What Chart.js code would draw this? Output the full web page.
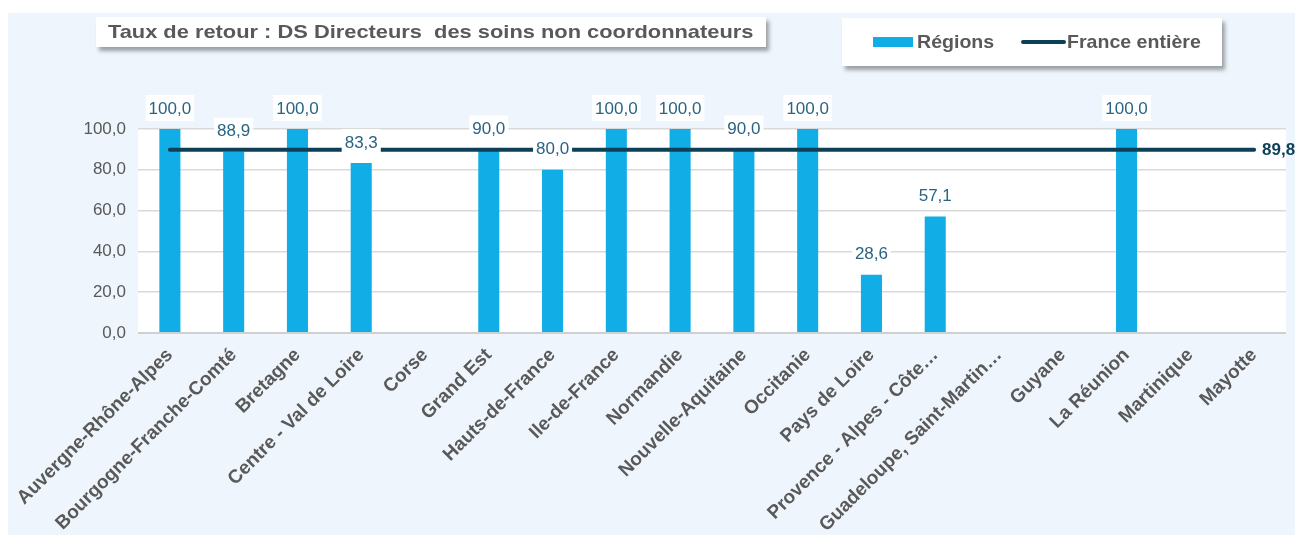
<!DOCTYPE html>
<html>
<head>
<meta charset="utf-8">
<script src="https://cdn.jsdelivr.net/npm/chart.js@4/dist/chart.umd.min.js"></script>
<style>
  html, body { margin: 0; padding: 0; background: #fff; }
  body { width: 1295px; height: 535px; position: relative; overflow: hidden; font-family: "Liberation Sans", Arial, sans-serif; }
  #panel { position: absolute; left: 8px; top: 13px; right: 0; bottom: 0; background: #eef5fc; }
  #wrap { position: absolute; left: 0; top: 0; width: 1295px; height: 535px; }
  .box { position: absolute; background: #fff; box-shadow: 3px 4px 4px rgba(0,0,0,0.35); color: #595959; font-weight: bold; }
  #title { left: 96px; top: 17px; width: 670px; height: 30px; font-size: 19px; line-height: 30px; text-align: center; white-space: nowrap; }
  #title span { display: inline-block; transform: scaleX(1.15); transform-origin: center; }
  #legend { left: 842px; top: 18px; width: 380px; height: 48px; font-size: 19px; }
  #legend .sw { position: absolute; }
  #legend .lbl { position: absolute; top: 12px; line-height: 24px; transform: scaleX(1.03); transform-origin: left; }
</style>
</head>
<body>
<div id="panel"></div>
<div id="wrap"><canvas id="chart" width="1295" height="535"></canvas></div>
<div class="box" id="title"><span>Taux de retour : DS Directeurs&nbsp; des soins non coordonnateurs</span></div>
<div class="box" id="legend">
  <div class="sw" id="swBar" style="left:31px; top:19px; width:40px; height:10px;"></div>
  <div class="lbl" id="lblBar" style="left:75px;"></div>
  <div class="sw" id="swLine" style="left:179px; top:22px; width:45px; height:4px; border-radius:2px;"></div>
  <div class="lbl" id="lblLine" style="left:225px;"></div>
</div>
<script>
// Data
const categories = [
  "Auvergne-Rhône-Alpes", "Bourgogne-Franche-Comté", "Bretagne", "Centre - Val de Loire",
  "Corse", "Grand Est", "Hauts-de-France", "Ile-de-France", "Normandie",
  "Nouvelle-Aquitaine", "Occitanie", "Pays de Loire", "Provence - Alpes - Côte…",
  "Guadeloupe, Saint-Martin…", "Guyane", "La Réunion", "Martinique", "Mayotte"
]
const regionValues = [100, 88.9, 100, 83.3, null, 90, 80, 100, 100, 90, 100, 28.6, 57.1, null, null, 100, null, null]
const franceValues = [89.8, 89.8, 89.8, 89.8, 89.8, 89.8, 89.8, 89.8, 89.8, 89.8, 89.8, 89.8, 89.8, 89.8, 89.8, 89.8, 89.8, 89.8]
const seriesNames = ["Régions", "France entière"]

const BAR_COLOR = "#10ade6"
const LINE_COLOR = "#0d3f57"
const FONT = "'Liberation Sans', Arial, sans-serif"

const fmt = v => v.toFixed(1).replace(".", ",")

// legend (html, styled like the boxed Excel legend)
document.getElementById("swBar").style.background = BAR_COLOR
document.getElementById("swLine").style.background = LINE_COLOR
document.getElementById("lblBar").textContent = seriesNames[0]
document.getElementById("lblLine").textContent = seriesNames[1]

// white plot area on the light blue panel
const plotBackground = {
  id: "plotBackground",
  beforeDraw(chart) {
    const { ctx, chartArea } = chart
    ctx.save()
    ctx.fillStyle = "#ffffff"
    ctx.fillRect(chartArea.left, chartArea.top, chartArea.right - chartArea.left, chartArea.bottom - chartArea.top)
    ctx.restore()
  }
}

// value labels in white boxes above the bars + France value at line end
const valueLabels = {
  id: "valueLabels",
  afterDatasetsDraw(chart) {
    const { ctx } = chart
    const bars = chart.getDatasetMeta(0).data
    ctx.save()
    ctx.font = "17px " + FONT
    ctx.textAlign = "center"
    ctx.textBaseline = "middle"
    bars.forEach((bar, i) => {
      const v = regionValues[i]
      if (v === null || v === undefined) return
      const txt = fmt(v)
      const w = ctx.measureText(txt).width + 6
      const h = 26
      const bottom = bar.y - 8
      ctx.fillStyle = "#ffffff"
      ctx.fillRect(bar.x - w / 2, bottom - h, w, h)
      ctx.fillStyle = "#2a6482"
      ctx.fillText(txt, bar.x, bottom - h / 2 + 1)
    })

    const pts = chart.getDatasetMeta(1).data
    const last = pts[pts.length - 1]
    ctx.font = "bold 17px " + FONT
    ctx.textAlign = "left"
    ctx.fillStyle = LINE_COLOR
    ctx.fillText(fmt(franceValues[franceValues.length - 1]), last.x + 8, last.y + 1)
    ctx.restore()
  }
}

new Chart(document.getElementById("chart"), {
  data: {
    labels: categories,
    datasets: [
      {
        type: "bar",
        label: seriesNames[0],
        data: regionValues,
        backgroundColor: BAR_COLOR,
        categoryPercentage: 1,
        barPercentage: 0.33,
        order: 2
      },
      {
        type: "line",
        label: seriesNames[1],
        data: franceValues,
        borderColor: LINE_COLOR,
        borderWidth: 4,
        borderCapStyle: "round",
        pointRadius: 0,
        fill: false,
        order: 1
      }
    ]
  },
  options: {
    responsive: false,
    animation: false,
    layout: { padding: { top: 129, right: 9, left: 0, bottom: 0 } },
    plugins: {
      legend: { display: false },
      title: { display: false },
      tooltip: { enabled: false }
    },
    scales: {
      x: {
        border: { display: false },
        grid: { display: false },
        ticks: {
          autoSkip: false,
          minRotation: 45,
          maxRotation: 45,
          padding: 3,
          color: "#595959",
          font: { family: FONT, size: 19, weight: "bold" }
        },
        afterFit(scale) { scale.height = 202 }
      },
      y: {
        min: 0,
        max: 100,
        border: { display: false },
        grid: {
          drawTicks: false,
          color: ctx => ctx.tick && ctx.tick.value === 0 ? "#d0d0d0" : "#d9d9d9",
          lineWidth: ctx => ctx.tick && ctx.tick.value === 0 ? 2 : 1.5
        },
        ticks: {
          stepSize: 20,
          padding: 12,
          color: "#595959",
          font: { family: FONT, size: 17 },
          callback: v => fmt(v)
        },
        afterFit(scale) { scale.width = 138 }
      }
    }
  },
  plugins: [plotBackground, valueLabels]
})
</script>
</body>
</html>
